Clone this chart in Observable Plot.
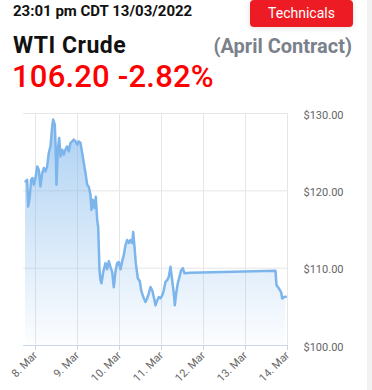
<!DOCTYPE html>
<html>
<head>
<meta charset="utf-8">
<script src="https://cdn.jsdelivr.net/npm/d3@7"></script>
<script src="https://cdn.jsdelivr.net/npm/@observablehq/plot@0.6"></script>
<style>
  html, body { margin: 0; padding: 0; background: #fff; }
  body { width: 372px; height: 390px; position: relative; overflow: hidden; font-family: Roboto, "Noto Sans", sans-serif; }
  #strip { position: absolute; right: 0; top: 0; width: 5px; height: 390px; background: #f2f2f2; }
  #header { position: relative; height: 100px; }
  #time { position: absolute; left: 13px; top: 2px; font-size: 15px; font-weight: 700; color: #111; }
  #btn { position: absolute; left: 250px; top: 0px; width: 103px; height: 27px; background: #ed1c24; border-radius: 4px; color: #fff; font-size: 14px; text-align: center; line-height: 27px; box-shadow: 0 1px 6px rgba(0,0,0,0.12); }
  #name { position: absolute; left: 13px; top: 32px; font-size: 23px; font-weight: 700; color: #111; letter-spacing: 0.5px; }
  #contract { position: absolute; right: 20px; top: 34px; font-size: 20px; font-weight: 700; color: #7b818b; }
  #price { position: absolute; left: 12px; top: 58px; font-size: 31px; font-weight: 500; color: #ff0000; letter-spacing: 0.2px; }
  #chart { position: absolute; left: 0; top: 100px; }
</style>
</head>
<body>
<div id="strip"></div>
<div id="header">
  <div id="time"></div>
  <div id="btn"></div>
  <div id="name"></div>
  <div id="contract"></div>
  <div id="price"></div>
</div>
<div id="chart"></div>
<script>
const timestamp = "23:01 pm CDT 13/03/2022";
const buttonLabel = "Technicals";
const instrument = "WTI Crude";
const contract = "(April Contract)";
const lastPrice = "106.20";
const changePct = "-2.82%";

const times = [
  "2022-03-07T18:17","2022-03-07T19:15","2022-03-07T19:50","2022-03-07T20:45","2022-03-07T21:30",
  "2022-03-07T22:17","2022-03-07T23:02","2022-03-08T00:00","2022-03-08T00:58","2022-03-08T01:53",
  "2022-03-08T02:50","2022-03-08T03:50","2022-03-08T04:45","2022-03-08T05:43","2022-03-08T06:40",
  "2022-03-08T07:36","2022-03-08T08:34","2022-03-08T09:33","2022-03-08T10:07","2022-03-08T11:02",
  "2022-03-08T11:26","2022-03-08T12:00","2022-03-08T12:45","2022-03-08T13:33","2022-03-08T14:17",
  "2022-03-08T15:15","2022-03-08T16:10","2022-03-08T17:08","2022-03-08T18:07","2022-03-08T19:02",
  "2022-03-08T20:00","2022-03-08T20:58","2022-03-08T21:53","2022-03-08T22:51","2022-03-08T23:50",
  "2022-03-09T00:45","2022-03-09T01:43","2022-03-09T02:41","2022-03-09T03:36","2022-03-09T04:34",
  "2022-03-09T05:33","2022-03-09T06:28","2022-03-09T07:26","2022-03-09T08:00","2022-03-09T08:45",
  "2022-03-09T09:43","2022-03-09T10:28","2022-03-09T11:15","2022-03-09T11:50","2022-03-09T12:10",
  "2022-03-09T12:34","2022-03-09T13:09","2022-03-09T13:43","2022-03-09T14:41","2022-03-09T16:00",
  "2022-03-09T16:58","2022-03-09T17:53","2022-03-09T18:51","2022-03-09T19:50","2022-03-09T20:45",
  "2022-03-09T21:43","2022-03-09T22:41","2022-03-09T23:36","2022-03-10T00:34","2022-03-10T01:33",
  "2022-03-10T02:28","2022-03-10T03:26","2022-03-10T04:24","2022-03-10T05:19","2022-03-10T06:17",
  "2022-03-10T07:15","2022-03-10T07:50","2022-03-10T08:34","2022-03-10T09:19","2022-03-10T10:28",
  "2022-03-10T11:36","2022-03-10T12:24","2022-03-10T13:33","2022-03-10T14:51","2022-03-10T15:50",
  "2022-03-10T16:45","2022-03-10T17:43","2022-03-10T18:41","2022-03-10T19:36","2022-03-10T20:34",
  "2022-03-10T21:33","2022-03-10T22:28","2022-03-10T23:26","2022-03-11T00:24","2022-03-11T01:19",
  "2022-03-11T02:17","2022-03-11T03:15","2022-03-11T04:10","2022-03-11T05:08","2022-03-11T06:07",
  "2022-03-11T07:02","2022-03-11T07:36","2022-03-11T08:24","2022-03-11T09:19","2022-03-11T10:17",
  "2022-03-11T11:15","2022-03-11T12:10","2022-03-11T13:08","2022-03-11T14:41","2022-03-11T16:34",
  "2022-03-13T17:09","2022-03-13T17:43","2022-03-13T19:02","2022-03-13T20:24","2022-03-13T20:58",
  "2022-03-13T21:53","2022-03-13T23:02"
];
const prices = [
  121.21,121.43,117.96,119.26,121.43,
  121.65,120.78,121.65,123.16,122.73,
  120.56,122.30,122.95,122.51,123.16,
  124.90,125.75,128.35,129.22,128.57,
  126.19,120.78,125.32,126.84,124.45,
  125.32,124.68,125.32,125.75,125.10,
  126.19,126.40,126.62,126.40,125.97,
  126.40,126.19,124.90,123.60,122.30,
  120.78,120.52,119.48,117.53,118.83,
  117.79,119.22,116.23,115.32,112.77,
  109.74,108.44,108.05,109.48,110.65,
  109.87,110.91,110.17,109.48,107.53,
  109.61,110.65,110.78,109.87,110.91,
  111.69,112.99,113.64,113.25,113.64,
  113.25,114.68,112.77,110.65,108.70,
  108.31,107.14,106.27,105.62,106.10,
  106.75,107.57,107.14,106.27,105.19,
  105.84,106.27,106.10,106.49,107.14,
  108.22,108.44,108.87,110.17,108.44,
  106.75,105.19,106.75,108.05,108.87,
  109.74,110.00,109.35,109.39,109.42,
  109.65,107.79,107.40,106.88,106.06,
  106.27,106.30
];
const xStart = "2022-03-07T17:09";
const xEnd = "2022-03-14T00:00";
const xTicks = ["2022-03-08","2022-03-09","2022-03-10","2022-03-11","2022-03-12","2022-03-13","2022-03-14"];
const yTicks = [100, 110, 120, 130];
const yDomain = [100, 130];

document.getElementById("time").textContent = timestamp;
document.getElementById("btn").textContent = buttonLabel;
document.getElementById("name").textContent = instrument;
document.getElementById("contract").textContent = contract;
document.getElementById("price").textContent = lastPrice + " " + changePct;

const parse = s => new Date(s + "Z");
const data = times.map((t, i) => ({date: parse(t), price: prices[i]}));
const fmtDay = d3.utcFormat("%-d. %b");
const fmtPrice = d => "$" + d3.format(".2f")(d);

const chart = Plot.plot({
  width: 372,
  height: 290,
  marginTop: 13,
  marginBottom: 45,
  marginLeft: 23,
  marginRight: 85,
  style: {fontFamily: "Roboto, sans-serif", fontSize: "11px", color: "#666", background: "transparent"},
  x: {type: "utc", domain: [parse(xStart), parse(xEnd)]},
  y: {domain: yDomain},
  marks: [
    Plot.gridX(xTicks.map(parse), {stroke: "#e6e6e6", strokeOpacity: 1, y1: yDomain[0], y2: yDomain[1]}),
    Plot.gridY(yTicks.slice(1), {stroke: "#e6e6e6", strokeOpacity: 1}),
    Plot.areaY(data, {x: "date", y1: yDomain[0], y2: "price", fill: "url(#wtiGrad)", curve: "linear"}),
    Plot.lineY(data, {x: "date", y: "price", stroke: "#7cb5ec", strokeWidth: 2.5, curve: "linear"}),
    Plot.ruleY([yDomain[0]], {stroke: "#ccd6eb", strokeWidth: 1}),
    Plot.axisX(xTicks.map(parse), {tickFormat: fmtDay, tickRotate: -45, tickSize: 5, stroke: "#ccd6eb", fill: "#666", fontSize: 11, tickPadding: 3, label: null}),
    Plot.axisY(yTicks, {anchor: "right", tickFormat: fmtPrice, tickSize: 0, tickPadding: 16, dy: 1.5, fill: "#666", fontSize: 11, textAnchor: "start", label: null})
  ]
});

const svg = d3.select(chart.tagName.toLowerCase() === "svg" ? chart : chart.querySelector("svg"));
const defs = svg.insert("defs", ":first-child");
const grad = defs.append("linearGradient")
  .attr("id", "wtiGrad")
  .attr("gradientUnits", "userSpaceOnUse")
  .attr("x1", 0).attr("x2", 0)
  .attr("y1", 13).attr("y2", 245);
grad.append("stop").attr("offset", "0%").attr("stop-color", "#7cb5ec").attr("stop-opacity", 0.65);
grad.append("stop").attr("offset", "100%").attr("stop-color", "#7cb5ec").attr("stop-opacity", 0.02);

document.getElementById("chart").appendChild(chart);
</script>
</body>
</html>
